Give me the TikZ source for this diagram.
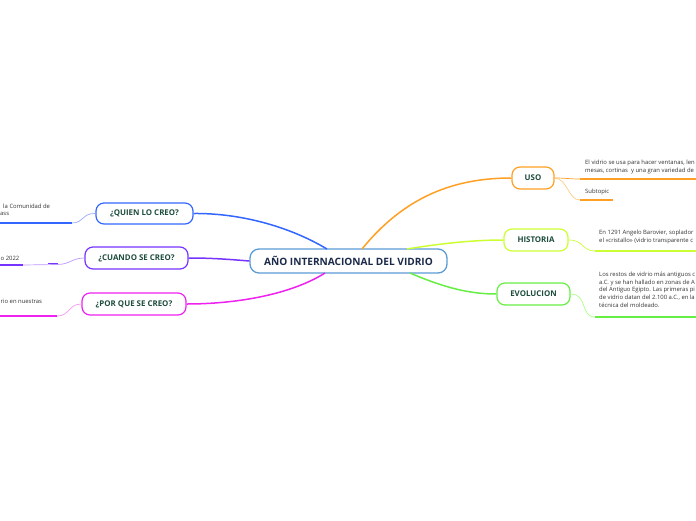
\documentclass[tikz,border=0pt]{standalone}
\usepackage{fontspec}
\setmainfont{Open Sans}
\definecolor{cblue}{HTML}{3366FF}
\definecolor{lblue}{HTML}{99AAFF}
\definecolor{cpurp}{HTML}{7733FF}
\definecolor{lpurp}{HTML}{BB99FF}
\definecolor{cmag}{HTML}{EE22EE}
\definecolor{lmag}{HTML}{F599F5}
\definecolor{corng}{HTML}{FFA024}
\definecolor{lorng}{HTML}{FFCC88}
\definecolor{cyel}{HTML}{CCFF33}
\definecolor{cgrn}{HTML}{66EE44}
\definecolor{lgrn}{HTML}{AAFF88}
\definecolor{cctr}{HTML}{5B9BD5}
\definecolor{tnavy}{HTML}{1B2A4A}
\definecolor{tgreen}{HTML}{1D4C3C}
\definecolor{ttext}{HTML}{333333}
\tikzset{
  topicbox/.style={draw, fill=white, rounded corners=8pt, line width=1.2pt, inner sep=0pt,
    text=tgreen, font=\fontsize{7.9}{9}\selectfont\bfseries},
  mainbox/.style={draw=cctr, fill=white, rounded corners=9pt, line width=1.3pt, inner sep=0pt,
    text=tnavy, font=\fontsize{10.1}{11}\selectfont\bfseries, minimum width=197pt, minimum height=24pt},
  leaftext/.style={inner sep=0pt, align=left, text=ttext, font=\fontsize{5.9}{7.6}\selectfont},
  branch/.style={line width=1.5pt},
  thin/.style={line width=0.7pt},
  under/.style={line width=1.5pt}
}
\begin{document}
\begin{tikzpicture}[x=1pt,y=-1pt]
\useasboundingbox (0,0) rectangle (696,520);
% central
\node[mainbox] (c) at (348.5,261) {AÑO INTERNACIONAL DEL VIDRIO};
% topics
\node[topicbox, draw=cblue, minimum width=97pt, minimum height=21pt] (q) at (144.5,213.5) {¿QUIEN LO CREO?};
\node[topicbox, draw=cpurp, minimum width=103pt, minimum height=22pt] (cu) at (136.5,258) {¿CUANDO SE CREO?};
\node[topicbox, draw=cmag, minimum width=104pt, minimum height=22pt] (p) at (134,304) {¿POR QUE SE CREO?};
\node[topicbox, draw=corng, minimum width=42pt, minimum height=22pt] (u) at (533,178) {USO};
\node[topicbox, draw=cyel, minimum width=64pt, minimum height=22pt] (h) at (536,240) {HISTORIA};
\node[topicbox, draw=cgrn, minimum width=73pt, minimum height=22pt] (e) at (533.5,294) {EVOLUCION};
% anchor points on central box
\coordinate (cq) at (327,249);
\coordinate (cp) at (325,273);
\coordinate (cu0) at (362,249);
\coordinate (ch) at (407,249);
\coordinate (ce) at (410,273);
% branches
\draw[branch, cblue] (cq) .. controls (285,224) and (235,213) .. (q.east);
\draw[branch, cpurp] (c.west) .. controls (225,259) and (210,258) .. (cu.east);
\draw[branch, cmag] (cp) .. controls (290,295) and (235,304) .. (p.east);
\draw[branch, corng] (cu0) .. controls (405,196) and (455,178) .. (u.west);
\draw[branch, cyel] (ch) .. controls (450,242) and (480,240) .. (h.west);
\draw[branch, cgrn] (ce) .. controls (445,288) and (470,294) .. (e.west);
% leaf texts
\node[leaftext, anchor=north west] (tq) at (3,203.5) {la Comunidad de\\\hspace*{-3pt}ass};
\node[leaftext, anchor=west] (tcu) at (0.5,258) {o 2022};
\node[leaftext, anchor=west] (tp) at (0.5,301) {rio en nuestras};
\node[leaftext, anchor=north west] (tu) at (585,160) {El vidrio se usa para hacer ventanas, len\\mesas, cortinas\ \ y una gran variedad de};
\node[leaftext, anchor=west] (ts) at (585,192) {Subtopic};
\node[leaftext, anchor=north west] (th) at (599,230) {En 1291 Angelo Barovier, soplador\\el «cristallo» (vidrio transparente c};
\node[leaftext, anchor=north west] (te) at (599,272) {Los restos de vidrio más antiguos c\\a.C. y se han hallado en zonas de A\\del Antiguo Egipto. Las primeras pi\\de vidrio datan del 2.100 a.C., en la\\técnica del moldeado.};
% leaf connectors
\coordinate (lq) at (72,223);
\coordinate (lq0) at (0,223);
\draw[thin, lblue] (q.west) .. controls (82,213) and (84,223) .. (lq);
\draw[under, cblue] (lq) -- (lq0);
\coordinate (lc1) at (57,264.5);
\coordinate (lc2) at (23,265);
\coordinate (lc0) at (0,265);
\coordinate (ld1) at (48,263.5);
\coordinate (ld2) at (58,263.5);
\draw[thin, lpurp] (cu.west) .. controls (72,258) and (70,264.5) .. (lc1) -- (lc2);
\draw[under, cpurp] (lc2) -- (lc0);
\draw[under, cpurp] (ld1) -- (ld2);
\coordinate (lp) at (57,316);
\coordinate (lp0) at (0,316);
\draw[thin, lmag] (p.west) .. controls (68,304) and (70,316) .. (lp);
\draw[under, cmag] (lp) -- (lp0);
\coordinate (lu) at (580,179);
\coordinate (lu0) at (696,179);
\draw[thin, corng] (u.east) .. controls (565,178) and (570,179) .. (lu);
\draw[under, corng] (lu) -- (lu0);
\coordinate (ls) at (580,200);
\coordinate (ls0) at (613,200);
\draw[thin, lorng] (u.east) .. controls (568,179) and (568,200) .. (ls);
\draw[under, corng] (ls) -- (ls0);
\coordinate (lh) at (595,251);
\coordinate (lh0) at (696,251);
\draw[thin, cyel] (h.east) .. controls (584,240) and (582,251) .. (lh);
\draw[under, cyel] (lh) -- (lh0);
\coordinate (le) at (595,317);
\coordinate (le0) at (696,317);
\draw[thin, lgrn] (e.east) .. controls (588,294) and (580,317) .. (le);
\draw[under, cgrn] (le) -- (le0);
\end{tikzpicture}
\end{document}
